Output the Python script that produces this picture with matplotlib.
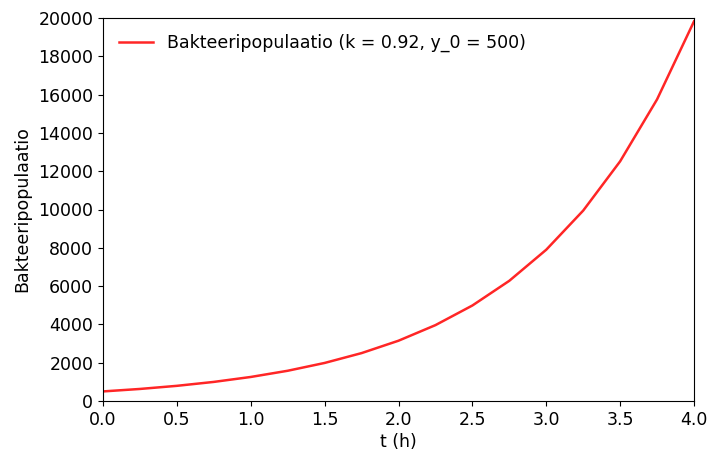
import matplotlib
matplotlib.use("Agg")
import matplotlib.pyplot as plt

t_hours = [0.0, 0.25, 0.5, 0.75, 1.0, 1.25, 1.5, 1.75, 2.0, 2.25, 2.5, 2.75,
           3.0, 3.25, 3.5, 3.75, 4.0]
population = [500, 629, 792, 997, 1255, 1579, 1987, 2501, 3148, 3962, 4987,
              6277, 7900, 9943, 12515, 15750, 19824]
series_label = "Bakteeripopulaatio (k = 0.92, y_0 = 500)"

fs = 12.5
fig = plt.figure(figsize=(7.08, 4.59), dpi=100)
ax = fig.add_axes([103/708, 1-401/459, (694-103)/708, (401-18)/459])
ax.plot(t_hours, population, color="red", alpha=0.85, linewidth=1.8, label=series_label)
ax.set_xlim(0, 4)
ax.set_ylim(0, 20000)
ax.set_xticks([0, 0.5, 1.0, 1.5, 2.0, 2.5, 3.0, 3.5, 4.0])
ax.set_yticks(range(0, 20001, 2000))
ax.tick_params(labelsize=fs)
ax.set_xlabel("t (h)", fontsize=fs, labelpad=3)
ax.set_ylabel("Bakteeripopulaatio", fontsize=fs, labelpad=5)
ax.legend(loc="upper left", frameon=False, fontsize=fs)
fig.savefig("out.png", dpi=100)
